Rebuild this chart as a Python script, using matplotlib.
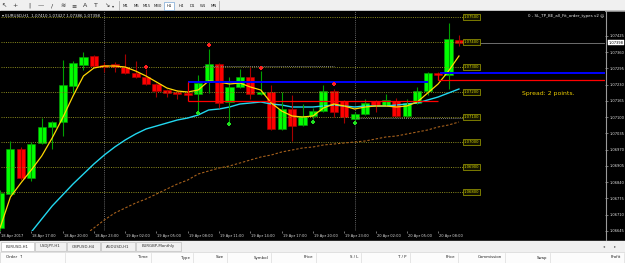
import matplotlib
matplotlib.use("Agg")
import matplotlib.pyplot as plt
import matplotlib.transforms as mtransforms
from matplotlib.patches import Rectangle
from matplotlib.ticker import FormatStrFormatter
import numpy as np

# EURUSD H1 candles, 18 Apr 2017 14:00 .. 20 Apr 10:00
opens = [1.06656, 1.06792, 1.06972, 1.06856, 1.06996, 1.07060, 1.07080, 1.07224, 1.07308, 1.07344,
         1.07308, 1.07312, 1.07300, 1.07276, 1.07260, 1.07232, 1.07208, 1.07200, 1.07196, 1.07192,
         1.07240, 1.07312, 1.07160, 1.07220, 1.07260, 1.07192, 1.07200, 1.07052, 1.07132, 1.07068,
         1.07104, 1.07124, 1.07204, 1.07164, 1.07092, 1.07112, 1.07164, 1.07148, 1.07164, 1.07104,
         1.07156, 1.07204, 1.07276, 1.07268, 1.07410]
highs = [1.06808, 1.07004, 1.06980, 1.07000, 1.07096, 1.07084, 1.07328, 1.07324, 1.07360, 1.07348,
         1.07320, 1.07320, 1.07352, 1.07324, 1.07292, 1.07236, 1.07212, 1.07208, 1.07200, 1.07268,
         1.07372, 1.07316, 1.07260, 1.07292, 1.07300, 1.07284, 1.07228, 1.07200, 1.07188, 1.07152,
         1.07136, 1.07228, 1.07212, 1.07168, 1.07120, 1.07172, 1.07168, 1.07192, 1.07176, 1.07172,
         1.07220, 1.07280, 1.07280, 1.07476, 1.07427]
lows = [1.06640, 1.06788, 1.06848, 1.06844, 1.06992, 1.06972, 1.07024, 1.07196, 1.07288, 1.07300,
        1.07280, 1.07280, 1.07272, 1.07256, 1.07228, 1.07180, 1.07180, 1.07172, 1.07184, 1.07120,
        1.07196, 1.07136, 1.07080, 1.07216, 1.07172, 1.07188, 1.07048, 1.07048, 1.07004, 1.07064,
        1.07092, 1.07120, 1.07100, 1.07076, 1.07088, 1.07108, 1.07120, 1.07144, 1.07100, 1.07100,
        1.07152, 1.07188, 1.07248, 1.07212, 1.07386]
closes = [1.06796, 1.06972, 1.06856, 1.06992, 1.07060, 1.07080, 1.07228, 1.07316, 1.07340, 1.07304,
          1.07300, 1.07300, 1.07276, 1.07260, 1.07232, 1.07204, 1.07196, 1.07192, 1.07188, 1.07236,
          1.07312, 1.07156, 1.07220, 1.07260, 1.07192, 1.07200, 1.07052, 1.07132, 1.07064, 1.07104,
          1.07124, 1.07204, 1.07120, 1.07100, 1.07112, 1.07156, 1.07148, 1.07168, 1.07104, 1.07156,
          1.07204, 1.07276, 1.07268, 1.07412, 1.07398]

ma_fast = [1.06656, 1.06780, 1.06836, 1.06888, 1.06944, 1.07016, 1.07096, 1.07184, 1.07264, 1.07296,
           1.07304, 1.07304, 1.07300, 1.07284, 1.07264, 1.07240, 1.07216, 1.07204, 1.07200, 1.07208,
           1.07244, 1.07240, 1.07232, 1.07236, 1.07220, 1.07208, 1.07156, 1.07124, 1.07104, 1.07100,
           1.07104, 1.07136, 1.07152, 1.07144, 1.07132, 1.07140, 1.07144, 1.07144, 1.07140, 1.07144,
           1.07160, 1.07196, 1.07232, 1.07284, 1.07344]
ma_mid = [1.06448, 1.06508, 1.06572, 1.06640, 1.06692, 1.06744, 1.06788, 1.06832, 1.06872, 1.06912,
          1.06948, 1.06980, 1.07008, 1.07032, 1.07052, 1.07064, 1.07076, 1.07088, 1.07096, 1.07108,
          1.07128, 1.07132, 1.07140, 1.07152, 1.07156, 1.07160, 1.07152, 1.07148, 1.07140, 1.07140,
          1.07140, 1.07144, 1.07148, 1.07144, 1.07140, 1.07144, 1.07144, 1.07144, 1.07148, 1.07152,
          1.07156, 1.07168, 1.07180, 1.07196, 1.07212]
ma_slow = [np.nan] * 8 + [
          1.06624, 1.06656, 1.06688, 1.06716, 1.06736, 1.06756, 1.06772, 1.06792, 1.06812, 1.06832,
          1.06848, 1.06872, 1.06884, 1.06896, 1.06904, 1.06916, 1.06928, 1.06940, 1.06948, 1.06960,
          1.06968, 1.06976, 1.06980, 1.06988, 1.06992, 1.06996, 1.07000, 1.07004, 1.07012, 1.07020,
          1.07024, 1.07032, 1.07040, 1.07048, 1.07060, 1.07068, 1.07080]

fractal_up_bars = [14, 20, 25, 32]
fractal_up_price = [1.07300, 1.07388, 1.07296, 1.07232]
fractal_dn_bars = [19, 22, 30, 34]
fractal_dn_price = [1.07116, 1.07072, 1.07080, 1.07076]

levels = [1.07500, 1.07400, 1.07300, 1.07200, 1.07100, 1.07000, 1.06900, 1.06800]
price_ticks = [1.06645 + k * 0.00065 for k in range(13)]
time_bars = [0, 3, 6, 9, 12, 15, 18, 21, 24, 27, 30, 33, 36, 39, 42]
time_labels = ["18 Apr 2017", "18 Apr 17:00", "18 Apr 20:00", "18 Apr 23:00", "19 Apr 02:00",
               "19 Apr 05:00", "19 Apr 08:00", "19 Apr 11:00", "19 Apr 14:00", "19 Apr 17:00",
               "19 Apr 20:00", "19 Apr 23:00", "20 Apr 02:00", "20 Apr 05:00", "20 Apr 08:00"]
day_breaks = [10, 34]

# (price, from bar, to bar)
blue_lines = [(1.07240, 18.0, 41.0), (1.07276, 42.2, 58.0)]
red_lines = [(1.07164, 18.0, 42.0), (1.07248, 42.0, 58.0)]
grey_dots = [(1.07304, 19.5, 32.0), (1.07096, 34.0, 44.4)]
bid = closes[-1]

W, H = 625, 263
fig = plt.figure(figsize=(W / 100, H / 100), dpi=100)
fig.patch.set_facecolor('#f0f0f0')

# ---- terminal frame (pixel coords) ----
ui = fig.add_axes([0, 0, 1, 1])
ui.set_xlim(0, W)
ui.set_ylim(H, 0)
ui.axis('off')
ui.add_patch(Rectangle((0, 11), W, 230, color='black'))
ui.plot([0, W], [10.5, 10.5], color='#a0a0a0', lw=0.6)
ui.plot([605.5, 605.5], [11, 240], color='#9a9a9a', lw=0.8)

# toolbar
icons = ['\u2196', '+', '|', '\u2014', '/', '\u224b', '\u2261', 'A', 'T', '\u2198']
icon_x = [4, 15, 29, 41, 52, 63, 74, 85, 96, 107]
for gx, g in zip(icon_x, icons):
    ui.text(gx, 5.5, g, fontsize=4.5, color='#303030', ha='center', va='center')
ui.text(113, 6, '\u25be', fontsize=3, color='#303030', ha='center', va='center')
ui.plot([119, 119], [1, 10], color='#b0b0b0', lw=0.6)
tfs = ['M1', 'M5', 'M15', 'M30', 'H1', 'H4', 'D1', 'W1', 'MN']
tf_x = [126, 136, 147, 158, 169, 181, 192, 203, 214]
for tx, t in zip(tf_x, tfs):
    if t == 'H1':
        ui.add_patch(Rectangle((tx - 5, 1.5), 10, 8, fc='#ffffff', ec='#7aa7d6', lw=0.5))
    ui.text(tx, 5.8, t, fontsize=2.8, color='#202020', ha='center', va='center')
ui.plot([219, 219], [1, 10], color='#b0b0b0', lw=0.6)
ui.text(483, 11.5, '\u25be', fontsize=3, color='#a0a0a0', ha='center', va='center')

# tabs
ui.add_patch(Rectangle((0, 241), W, 10, color='#f0f0f0'))
tabs = ['EURUSD,H1', 'USDJPY,H1', 'GBPUSD,H4', 'AUDUSD,H1', 'EURGBP,Monthly']
tab_x = [1, 35, 67, 101, 136]
tab_w = [33, 31, 33, 34, 45]
for k, (tx, tw, t) in enumerate(zip(tab_x, tab_w, tabs)):
    ui.add_patch(Rectangle((tx, 241.5), tw, 9, fc='#ffffff' if k == 0 else '#f0f0f0',
                           ec='#b4b4b4', lw=0.4))
    ui.text(tx + tw / 2, 246.5, t, fontsize=2.8, color='#303030', ha='center', va='center')
ui.text(604, 246.5, '\u25c2', fontsize=3, color='#606060', ha='center', va='center')
ui.text(615, 246.5, '\u25b8', fontsize=3, color='#606060', ha='center', va='center')

# order table header
ui.add_patch(Rectangle((0, 252), W, 11, fc='#fcfcfc', ec='#d0d0d0', lw=0.4))
cols = ['Time', 'Type', 'Size', 'Symbol', 'Price', 'S / L', 'T / P', 'Price', 'Commission', 'Swap', 'Profit']
col_right = [150, 192, 226, 270, 315, 360, 409, 457, 504, 549, 623]
ui.text(6, 257.5, 'Order  \u2191', fontsize=2.8, color='#202020', va='center')
ui.plot([65, 65], [252.5, 262.5], color='#dcdcdc', lw=0.5)
for cx, t in zip(col_right, cols):
    ui.text(cx - 2, 257.5, t, fontsize=2.8, color='#202020', ha='right', va='center')
    ui.plot([cx + 1, cx + 1], [252.5, 262.5], color='#dcdcdc', lw=0.5)

# ---- price chart ----
ax = fig.add_axes([0, (H - 231) / H, 605 / W, 220 / H])
ax.set_facecolor('black')
ax.set_xlim(0.048, 58.0)
ax.set_ylim(1.06644, 1.07524)
for s in ax.spines.values():
    s.set_visible(False)

x = np.arange(len(opens))
o, h, l, c = (np.array(v) for v in (opens, highs, lows, closes))
up = c >= o
lo_b = np.minimum(o, c)
hgt = np.maximum(np.abs(c - o), 0.00002)

for d in day_breaks:
    ax.axvline(d, color='#8a8a8a', lw=0.6, ls=(0, (1, 1.5)))
ax.hlines(levels, 0.048, 44.4, colors='#8c8c1e', lw=0.7, linestyles=(0, (1, 1.3)))
for p, a, b in grey_dots:
    ax.hlines(p, a, b, colors='#7a7a7a', lw=0.7, linestyles=(0, (1, 1)))
for lv in levels:
    ax.text(45.2, lv, f'{lv:.5f}', fontsize=2.7, color='#d8d800', ha='center', va='center',
            bbox=dict(boxstyle='square,pad=0.25', fc='#121200', ec='#a8a800', lw=0.5))
ax.hlines(bid, 46.0, 58.0, colors='#6e6e6e', lw=0.7)

ax.plot(x, ma_slow, color='#a5601c', lw=0.8, ls=(0, (2.2, 1.6)))
ax.plot(x, ma_mid, color='#22d8f0', lw=1.0)

ax.vlines(x[up], l[up], h[up], color='#00a000', lw=0.8)
ax.vlines(x[~up], l[~up], h[~up], color='#a80000', lw=0.8)
ax.bar(x[up], hgt[up], bottom=lo_b[up], width=0.78, color='#00ff00', edgecolor='#0a9a0a', lw=0.4)
ax.bar(x[~up], hgt[~up], bottom=lo_b[~up], width=0.78, color='#ff0000', edgecolor='#b00000', lw=0.4)

ax.plot(x, ma_fast, color='#ffd800', lw=0.9)

for p, a, b in blue_lines:
    ax.hlines(p, a, b, colors='#0000ff', lw=1.4)
for p, a, b in red_lines:
    ax.hlines(p, a, b, colors='#ff0000', lw=0.9)
ax.vlines(red_lines[0][1], red_lines[0][0], blue_lines[0][0], colors='#ff0000', lw=0.9)
ax.vlines(red_lines[1][1], red_lines[1][0], blue_lines[1][0], colors='#ff0000', lw=0.9)

ax.scatter(fractal_up_bars, fractal_up_price, marker='P', s=12, color='#ff2020', lw=0, zorder=5)
ax.scatter(fractal_dn_bars, fractal_dn_price, marker='P', s=12, color='#20e020', lw=0, zorder=5)

# axes
ax.yaxis.tick_right()
ax.set_yticks(price_ticks)
ax.yaxis.set_major_formatter(FormatStrFormatter('%.5f'))
ax.tick_params(axis='y', colors='#a0a0a0', labelcolor='#e0e0e0', labelsize=2.6, length=2, width=0.5, pad=1)
ax.set_xticks(time_bars)
ax.set_xticklabels(time_labels, ha='left')
ax.tick_params(axis='x', colors='#a0a0a0', labelcolor='#d8d8d8', labelsize=2.6, length=1.5, width=0.5, pad=1)
offs = mtransforms.ScaledTranslation(1 / 100, 0, fig.dpi_scale_trans)
for t in ax.get_xticklabels():
    t.set_transform(t.get_transform() + offs)

tr = mtransforms.blended_transform_factory(ax.transAxes, ax.transData)
ax.text(1.006, bid, f'{bid:.5f}', transform=tr, fontsize=2.6, color='black', va='center', ha='left',
        bbox=dict(boxstyle='square,pad=0.2', fc='white', ec='white', lw=0.3), clip_on=False)

ax.text(0.003, 0.975, '\u25be EURUSD,H1  ' + ' '.join(f'{v:.5f}' for v in (o[-1], h[-1], l[-1], c[-1])),
        transform=ax.transAxes, fontsize=2.9, color='#e8e8e8', va='center', ha='left')
ax.text(0.998, 0.975, '0 - SL_TP_BE_all_Fit_order_types v2 \u263a', transform=ax.transAxes,
        fontsize=2.9, color='#e8e8e8', va='center', ha='right')
ax.text(0.862, 0.625, 'Spread: 2 points.', transform=ax.transAxes, fontsize=4.4,
        color='#f0d000', va='center', ha='left')

fig.savefig('out.png', dpi=100, facecolor=fig.get_facecolor())
